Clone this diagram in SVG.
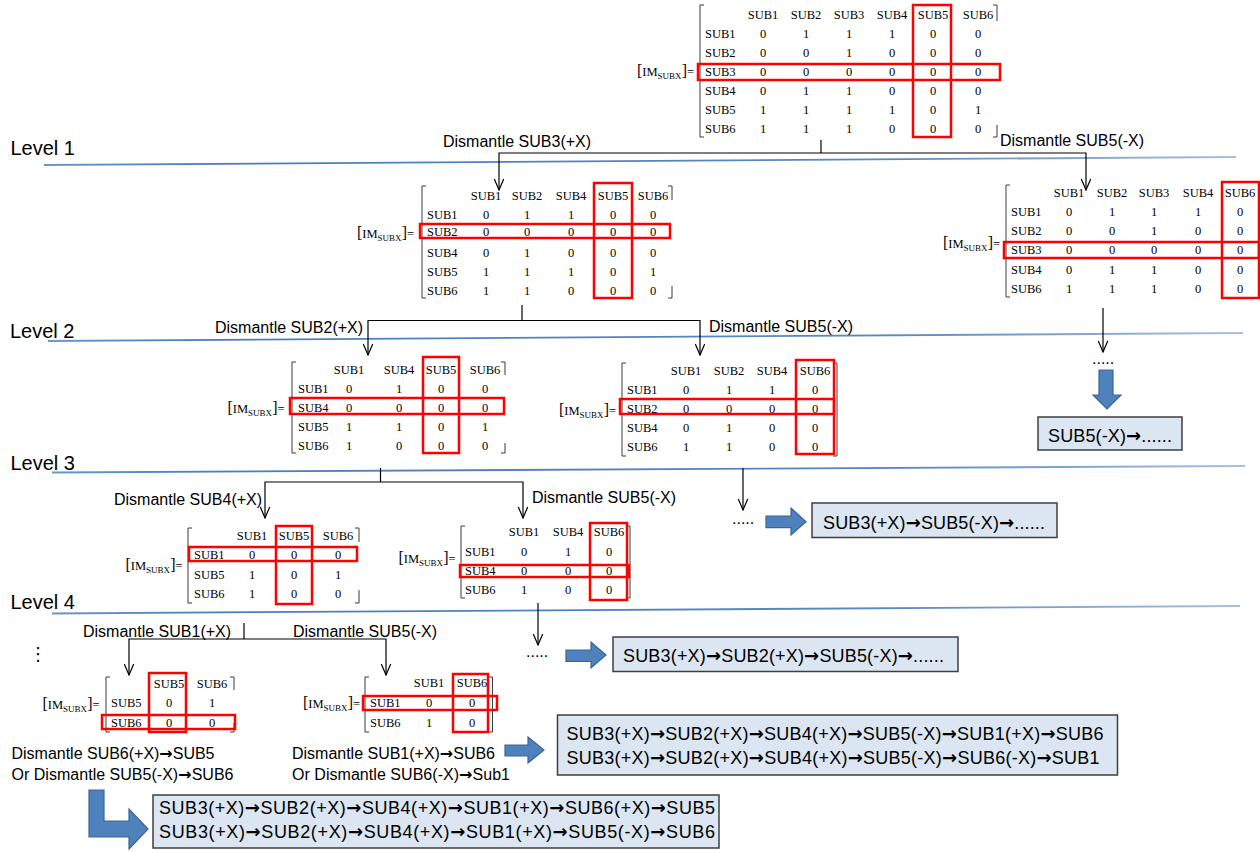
<svg xmlns="http://www.w3.org/2000/svg" width="1260" height="852" viewBox="0 0 1260 852">
<style>
.lv{font-family:"Liberation Sans",Arial,sans-serif;font-size:20px;fill:#000}
.dm{font-family:"Liberation Sans",Arial,sans-serif;font-size:16px;fill:#000}
.bx{font-family:"Liberation Sans",Arial,sans-serif;font-size:18px;fill:#000}
.ar{font-family:"DejaVu Sans",sans-serif;font-weight:bold}
.m{font-family:"Liberation Serif","Times New Roman",serif;font-size:12.5px;text-anchor:middle;fill:#000}
.rl{font-family:"Liberation Serif","Times New Roman",serif;font-size:12.5px;fill:#000}
.sub{font-size:9px}
.bk{font-size:16px}
.hl{fill:none;stroke:#ff0000;stroke-width:2.5}
.br{fill:none;stroke:#3a3a3a;stroke-width:1}
.cn{fill:none;stroke:#000;stroke-width:1.2}
.lvl{fill:none;stroke:url(#lg);stroke-width:1.8}
.blk{fill:#4f81bd;stroke:#3a6496;stroke-width:1.2}
.box{fill:#dce6f2;stroke:#3f3f3f;stroke-width:1.5}
.dots{font-family:"Liberation Sans",Arial,sans-serif;font-size:16px;fill:#000}
</style>
<defs>
<linearGradient id="lg" gradientUnits="userSpaceOnUse" x1="40" y1="0" x2="1250" y2="0">
<stop offset="0" stop-color="#6f97c9"/>
<stop offset="0.15" stop-color="#4a7ebb"/>
<stop offset="0.7" stop-color="#5a88c0"/>
<stop offset="1" stop-color="#a9c1e0"/>
</linearGradient>
<marker id="arr" viewBox="-12 -6 13 12" refX="0" refY="0" markerWidth="13" markerHeight="12" markerUnits="userSpaceOnUse" orient="auto">
<path d="M-11,-4.7 L0,0 L-11,4.7" fill="none" stroke="#000" stroke-width="1.2"/>
</marker>
</defs>
<rect width="1260" height="852" fill="#fff"/>

<g id="levels">
<text class="lv" x="10.5" y="154.5">Level 1</text>
<line class="lvl" x1="44" y1="165" x2="1236" y2="157"/>
<text class="lv" x="10" y="338">Level 2</text>
<line class="lvl" x1="48" y1="341" x2="1243" y2="333"/>
<text class="lv" x="10.5" y="470">Level 3</text>
<line class="lvl" x1="52" y1="472.5" x2="1245" y2="466"/>
<text class="lv" x="10.5" y="609">Level 4</text>
<line class="lvl" x1="52" y1="613.5" x2="1240" y2="606"/>
</g>

<g id="connectors">
<path class="cn" d="M821,140 V153"/>
<path class="cn" d="M821,153 H499 V190" marker-end="url(#arr)"/>
<path class="cn" d="M821,153 H1086 V190" marker-end="url(#arr)"/>
<path class="cn" d="M1103,308 V352" marker-end="url(#arr)"/>
<path class="cn" d="M522,305 V320.5"/>
<path class="cn" d="M522,320.5 H368 V355" marker-end="url(#arr)"/>
<path class="cn" d="M522,320.5 H700 V355" marker-end="url(#arr)"/>
<path class="cn" d="M380.5,468 V482"/>
<path class="cn" d="M380.5,482 H265 V518" marker-end="url(#arr)"/>
<path class="cn" d="M380.5,482 H523 V518" marker-end="url(#arr)"/>
<path class="cn" d="M743,468 V510" marker-end="url(#arr)"/>
<path class="cn" d="M538,603 V645" marker-end="url(#arr)"/>
<path class="cn" d="M244,623 V639"/>
<path class="cn" d="M244,639 H129 V675" marker-end="url(#arr)"/>
<path class="cn" d="M244,639 H386 V675" marker-end="url(#arr)"/>
</g>

<g id="labels">
<text class="dm" x="443" y="147">Dismantle SUB3(+X)</text>
<text class="dm" x="1000" y="146">Dismantle SUB5(-X)</text>
<text class="dm" x="215" y="333">Dismantle SUB2(+X)</text>
<text class="dm" x="709" y="332">Dismantle SUB5(-X)</text>
<text class="dm" x="114" y="505">Dismantle SUB4(+X)</text>
<text class="dm" x="532" y="503">Dismantle SUB5(-X)</text>
<text class="dm" x="83" y="637">Dismantle SUB1(+X)</text>
<text class="dm" x="293" y="637">Dismantle SUB5(-X)</text>
<text class="dm" x="11.5" y="759" textLength="203" lengthAdjust="spacing">Dismantle SUB6(+X)<tspan class="ar">→</tspan>SUB5</text>
<text class="dm" x="11.5" y="780" textLength="222" lengthAdjust="spacing">Or Dismantle SUB5(-X)<tspan class="ar">→</tspan>SUB6</text>
<text class="dm" x="292" y="759" textLength="203" lengthAdjust="spacing">Dismantle SUB1(+X)<tspan class="ar">→</tspan>SUB6</text>
<text class="dm" x="292" y="780" textLength="218" lengthAdjust="spacing">Or Dismantle SUB6(-X)<tspan class="ar">→</tspan>Sub1</text>
<text class="dots" x="1092" y="364">.....</text>
<text class="dots" x="732" y="524">.....</text>
<text class="dots" x="526" y="657">.....</text>
<text x="29" y="660" style="font-family:'DejaVu Sans',sans-serif;font-size:18px">⋮</text>
</g>

<g id="matrix-root">
<text class="rl" x="637" y="76"><tspan class="bk">[</tspan>IM<tspan class="sub" dy="3">SUBX</tspan><tspan class="bk" dy="-3">]</tspan>=</text>
<path class="br" d="M704,5 H700 V137 H704"/>
<path class="br" d="M993,5 H997 V21 M997,125 V137 H993"/>
<text class="m" x="763" y="19">SUB1</text><text class="m" x="806" y="19">SUB2</text><text class="m" x="849" y="19">SUB3</text><text class="m" x="892" y="19">SUB4</text><text class="m" x="933" y="19">SUB5</text><text class="m" x="978" y="19">SUB6</text>
<text class="rl" x="705" y="38">SUB1</text><text class="m" x="763" y="38">0</text><text class="m" x="806" y="38">1</text><text class="m" x="849" y="38">1</text><text class="m" x="892" y="38">1</text><text class="m" x="933" y="38">0</text><text class="m" x="978" y="38">0</text>
<text class="rl" x="705" y="57">SUB2</text><text class="m" x="763" y="57">0</text><text class="m" x="806" y="57">0</text><text class="m" x="849" y="57">1</text><text class="m" x="892" y="57">0</text><text class="m" x="933" y="57">0</text><text class="m" x="978" y="57">0</text>
<text class="rl" x="705" y="76">SUB3</text><text class="m" x="763" y="76">0</text><text class="m" x="806" y="76">0</text><text class="m" x="849" y="76">0</text><text class="m" x="892" y="76">0</text><text class="m" x="933" y="76">0</text><text class="m" x="978" y="76">0</text>
<text class="rl" x="705" y="95">SUB4</text><text class="m" x="763" y="95">0</text><text class="m" x="806" y="95">1</text><text class="m" x="849" y="95">1</text><text class="m" x="892" y="95">0</text><text class="m" x="933" y="95">0</text><text class="m" x="978" y="95">0</text>
<text class="rl" x="705" y="114">SUB5</text><text class="m" x="763" y="114">1</text><text class="m" x="806" y="114">1</text><text class="m" x="849" y="114">1</text><text class="m" x="892" y="114">1</text><text class="m" x="933" y="114">0</text><text class="m" x="978" y="114">1</text>
<text class="rl" x="705" y="133">SUB6</text><text class="m" x="763" y="133">1</text><text class="m" x="806" y="133">1</text><text class="m" x="849" y="133">1</text><text class="m" x="892" y="133">0</text><text class="m" x="933" y="133">0</text><text class="m" x="978" y="133">0</text>
<rect class="hl" x="913" y="5" width="38" height="132"/>
<rect class="hl" x="698" y="64" width="302" height="16"/>
</g>

<g id="matrix-l1-left">
<text class="rl" x="357" y="238"><tspan class="bk">[</tspan>IM<tspan class="sub" dy="3">SUBX</tspan><tspan class="bk" dy="-3">]</tspan>=</text>
<path class="br" d="M426,186 H422 V298 H426"/>
<path class="br" d="M668,186 H672 V200 M672,286 V298 H668"/>
<text class="m" x="486" y="200">SUB1</text><text class="m" x="527" y="200">SUB2</text><text class="m" x="571" y="200">SUB4</text><text class="m" x="613" y="200">SUB5</text><text class="m" x="653" y="200">SUB6</text>
<text class="rl" x="427" y="219">SUB1</text><text class="m" x="486" y="219">0</text><text class="m" x="527" y="219">1</text><text class="m" x="571" y="219">1</text><text class="m" x="613" y="219">0</text><text class="m" x="653" y="219">0</text>
<text class="rl" x="427" y="236">SUB2</text><text class="m" x="486" y="236">0</text><text class="m" x="527" y="236">0</text><text class="m" x="571" y="236">0</text><text class="m" x="613" y="236">0</text><text class="m" x="653" y="236">0</text>
<text class="rl" x="427" y="257">SUB4</text><text class="m" x="486" y="257">0</text><text class="m" x="527" y="257">1</text><text class="m" x="571" y="257">0</text><text class="m" x="613" y="257">0</text><text class="m" x="653" y="257">0</text>
<text class="rl" x="427" y="276">SUB5</text><text class="m" x="486" y="276">1</text><text class="m" x="527" y="276">1</text><text class="m" x="571" y="276">1</text><text class="m" x="613" y="276">0</text><text class="m" x="653" y="276">1</text>
<text class="rl" x="427" y="295">SUB6</text><text class="m" x="486" y="295">1</text><text class="m" x="527" y="295">1</text><text class="m" x="571" y="295">0</text><text class="m" x="613" y="295">0</text><text class="m" x="653" y="295">0</text>
<rect class="hl" x="594" y="183" width="38" height="115"/>
<rect class="hl" x="420" y="224" width="250" height="14"/>
</g>

<g id="matrix-l1-right">
<text class="rl" x="943" y="248"><tspan class="bk">[</tspan>IM<tspan class="sub" dy="3">SUBX</tspan><tspan class="bk" dy="-3">]</tspan>=</text>
<path class="br" d="M1010,185 H1006 V297 H1010"/>
<text class="m" x="1069" y="197">SUB1</text><text class="m" x="1112" y="197">SUB2</text><text class="m" x="1154" y="197">SUB3</text><text class="m" x="1198" y="197">SUB4</text><text class="m" x="1240" y="197">SUB6</text>
<text class="rl" x="1011" y="216">SUB1</text><text class="m" x="1069" y="216">0</text><text class="m" x="1112" y="216">1</text><text class="m" x="1154" y="216">1</text><text class="m" x="1198" y="216">1</text><text class="m" x="1240" y="216">0</text>
<text class="rl" x="1011" y="235">SUB2</text><text class="m" x="1069" y="235">0</text><text class="m" x="1112" y="235">0</text><text class="m" x="1154" y="235">1</text><text class="m" x="1198" y="235">0</text><text class="m" x="1240" y="235">0</text>
<text class="rl" x="1011" y="254">SUB3</text><text class="m" x="1069" y="254">0</text><text class="m" x="1112" y="254">0</text><text class="m" x="1154" y="254">0</text><text class="m" x="1198" y="254">0</text><text class="m" x="1240" y="254">0</text>
<text class="rl" x="1011" y="274">SUB4</text><text class="m" x="1069" y="274">0</text><text class="m" x="1112" y="274">1</text><text class="m" x="1154" y="274">1</text><text class="m" x="1198" y="274">0</text><text class="m" x="1240" y="274">0</text>
<text class="rl" x="1011" y="293">SUB6</text><text class="m" x="1069" y="293">1</text><text class="m" x="1112" y="293">1</text><text class="m" x="1154" y="293">1</text><text class="m" x="1198" y="293">0</text><text class="m" x="1240" y="293">0</text>
<rect class="hl" x="1222" y="182" width="37" height="116"/>
<rect class="hl" x="1004" y="242" width="255" height="16"/>
</g>

<g id="matrix-l2-left">
<text class="rl" x="227.5" y="413"><tspan class="bk">[</tspan>IM<tspan class="sub" dy="3">SUBX</tspan><tspan class="bk" dy="-3">]</tspan>=</text>
<path class="br" d="M296,362 H292 V453 H296"/>
<path class="br" d="M501,362 H505 V375 M505,443 V453 H501"/>
<text class="m" x="349" y="374">SUB1</text><text class="m" x="399" y="374">SUB4</text><text class="m" x="441" y="374">SUB5</text><text class="m" x="485" y="374">SUB6</text>
<text class="rl" x="298" y="393">SUB1</text><text class="m" x="349" y="393">0</text><text class="m" x="399" y="393">1</text><text class="m" x="441" y="393">0</text><text class="m" x="485" y="393">0</text>
<text class="rl" x="298" y="412">SUB4</text><text class="m" x="349" y="412">0</text><text class="m" x="399" y="412">0</text><text class="m" x="441" y="412">0</text><text class="m" x="485" y="412">0</text>
<text class="rl" x="298" y="431">SUB5</text><text class="m" x="349" y="431">1</text><text class="m" x="399" y="431">1</text><text class="m" x="441" y="431">0</text><text class="m" x="485" y="431">1</text>
<text class="rl" x="298" y="450">SUB6</text><text class="m" x="349" y="450">1</text><text class="m" x="399" y="450">0</text><text class="m" x="441" y="450">0</text><text class="m" x="485" y="450">0</text>
<rect class="hl" x="423" y="357" width="36" height="96"/>
<rect class="hl" x="290" y="398" width="214" height="16"/>
</g>

<g id="matrix-l2-right">
<text class="rl" x="559" y="415"><tspan class="bk">[</tspan>IM<tspan class="sub" dy="3">SUBX</tspan><tspan class="bk" dy="-3">]</tspan>=</text>
<path class="br" d="M626,363 H622 V456 H626"/>
<path class="br" d="M833,363 H837 V456 H833"/>
<text class="m" x="686" y="375">SUB1</text><text class="m" x="729" y="375">SUB2</text><text class="m" x="772" y="375">SUB4</text><text class="m" x="815" y="375">SUB6</text>
<text class="rl" x="627" y="394">SUB1</text><text class="m" x="686" y="394">0</text><text class="m" x="729" y="394">1</text><text class="m" x="772" y="394">1</text><text class="m" x="815" y="394">0</text>
<text class="rl" x="627" y="413">SUB2</text><text class="m" x="686" y="413">0</text><text class="m" x="729" y="413">0</text><text class="m" x="772" y="413">0</text><text class="m" x="815" y="413">0</text>
<text class="rl" x="627" y="432">SUB4</text><text class="m" x="686" y="432">0</text><text class="m" x="729" y="432">1</text><text class="m" x="772" y="432">0</text><text class="m" x="815" y="432">0</text>
<text class="rl" x="627" y="451">SUB6</text><text class="m" x="686" y="451">1</text><text class="m" x="729" y="451">1</text><text class="m" x="772" y="451">0</text><text class="m" x="815" y="451">0</text>
<rect class="hl" x="796" y="360" width="38" height="94"/>
<rect class="hl" x="620" y="399" width="214" height="15"/>
</g>

<g id="matrix-l3-left">
<text class="rl" x="125.5" y="570"><tspan class="bk">[</tspan>IM<tspan class="sub" dy="3">SUBX</tspan><tspan class="bk" dy="-3">]</tspan>=</text>
<path class="br" d="M192,528 H188 V603 H192"/>
<path class="br" d="M355,528 H359 V542 M359,590 V603 H355"/>
<text class="m" x="252" y="540">SUB1</text><text class="m" x="294" y="540">SUB5</text><text class="m" x="338" y="540">SUB6</text>
<text class="rl" x="194" y="559">SUB1</text><text class="m" x="252" y="559">0</text><text class="m" x="294" y="559">0</text><text class="m" x="338" y="559">0</text>
<text class="rl" x="194" y="579">SUB5</text><text class="m" x="252" y="579">1</text><text class="m" x="294" y="579">0</text><text class="m" x="338" y="579">1</text>
<text class="rl" x="194" y="598">SUB6</text><text class="m" x="252" y="598">1</text><text class="m" x="294" y="598">0</text><text class="m" x="338" y="598">0</text>
<rect class="hl" x="276" y="526" width="36" height="78"/>
<rect class="hl" x="189" y="547" width="168" height="14"/>
</g>

<g id="matrix-l3-right">
<text class="rl" x="398.5" y="563"><tspan class="bk">[</tspan>IM<tspan class="sub" dy="3">SUBX</tspan><tspan class="bk" dy="-3">]</tspan>=</text>
<path class="br" d="M465,526 H461 V598 H465"/>
<path class="br" d="M626,526 H630 V598 H626"/>
<text class="m" x="524" y="536">SUB1</text><text class="m" x="568" y="536">SUB4</text><text class="m" x="609" y="536">SUB6</text>
<text class="rl" x="465" y="556">SUB1</text><text class="m" x="524" y="556">0</text><text class="m" x="568" y="556">1</text><text class="m" x="609" y="556">0</text>
<text class="rl" x="465" y="575">SUB4</text><text class="m" x="524" y="575">0</text><text class="m" x="568" y="575">0</text><text class="m" x="609" y="575">0</text>
<text class="rl" x="465" y="594">SUB6</text><text class="m" x="524" y="594">1</text><text class="m" x="568" y="594">0</text><text class="m" x="609" y="594">0</text>
<rect class="hl" x="590" y="523" width="37" height="77"/>
<rect class="hl" x="460" y="565" width="169" height="12"/>
</g>

<g id="matrix-l4-left">
<text class="rl" x="42.5" y="709"><tspan class="bk">[</tspan>IM<tspan class="sub" dy="3">SUBX</tspan><tspan class="bk" dy="-3">]</tspan>=</text>
<path class="br" d="M110,677 H106 V732 H110"/>
<path class="br" d="M230,677 H234 V690 M234,723 V732 H230"/>
<text class="m" x="169" y="688">SUB5</text><text class="m" x="212" y="688">SUB6</text>
<text class="rl" x="111" y="707">SUB5</text><text class="m" x="169" y="707">0</text><text class="m" x="212" y="707">1</text>
<text class="rl" x="111" y="727">SUB6</text><text class="m" x="169" y="727">0</text><text class="m" x="212" y="727">0</text>
<rect class="hl" x="149" y="673" width="37" height="59"/>
<rect class="hl" x="102" y="715" width="133" height="14"/>
</g>

<g id="matrix-l4-right">
<text class="rl" x="303" y="708"><tspan class="bk">[</tspan>IM<tspan class="sub" dy="3">SUBX</tspan><tspan class="bk" dy="-3">]</tspan>=</text>
<path class="br" d="M369,677 H365 V732 H369"/>
<path class="br" d="M488.5,677 H492.5 V732 H488.5"/>
<text class="m" x="429" y="687">SUB1</text><text class="m" x="472" y="687">SUB6</text>
<text class="rl" x="370" y="707">SUB1</text><text class="m" x="429" y="707">0</text><text class="m" x="472" y="707">0</text>
<text class="rl" x="370" y="727">SUB6</text><text class="m" x="429" y="727">1</text><text class="m" x="472" y="727">0</text>
<rect class="hl" x="453" y="674" width="35" height="58"/>
<rect class="hl" x="363" y="696" width="134" height="14"/>
</g>

<g id="block-arrows">
<polygon class="blk" points="1099,370 1113,370 1113,395 1121,395 1107,409 1093,395 1099,395"/>
<polygon class="blk" points="766,516 791,516 791,508 806,521.7 791,535 791,527.7 766,527.7"/>
<polygon class="blk" points="566,650 591,650 591,642 606,655 591,668 591,661.5 566,661.5"/>
<polygon class="blk" points="505,745 528,745 528,737 544,750 528,763 528,756 505,756"/>
<polygon class="blk" points="89,790 104,790 104,821 129,821 129,809 148,829 129,849 129,837 89,837"/>
</g>

<g id="result-1">
<rect class="box" x="1038" y="417" width="144" height="33"/>
<text class="bx" x="1048" y="442" textLength="124" lengthAdjust="spacing">SUB5(-X)<tspan class="ar">→</tspan>......</text>
</g>
<g id="result-2">
<rect class="box" x="812" y="503" width="245" height="34.5"/>
<text class="bx" x="823" y="528.5" textLength="222" lengthAdjust="spacing">SUB3(+X)<tspan class="ar">→</tspan>SUB5(-X)<tspan class="ar">→</tspan>......</text>
</g>
<g id="result-3">
<rect class="box" x="613" y="637" width="345" height="34.5"/>
<text class="bx" x="623" y="662" textLength="321" lengthAdjust="spacing">SUB3(+X)<tspan class="ar">→</tspan>SUB2(+X)<tspan class="ar">→</tspan>SUB5(-X)<tspan class="ar">→</tspan>......</text>
</g>
<g id="result-4">
<rect class="box" x="557.5" y="715" width="560" height="60"/>
<text class="bx" x="566.5" y="739.5" textLength="537" lengthAdjust="spacing">SUB3(+X)<tspan class="ar">→</tspan>SUB2(+X)<tspan class="ar">→</tspan>SUB4(+X)<tspan class="ar">→</tspan>SUB5(-X)<tspan class="ar">→</tspan>SUB1(+X)<tspan class="ar">→</tspan>SUB6</text>
<text class="bx" x="566.5" y="763.5" textLength="533" lengthAdjust="spacing">SUB3(+X)<tspan class="ar">→</tspan>SUB2(+X)<tspan class="ar">→</tspan>SUB4(+X)<tspan class="ar">→</tspan>SUB5(-X)<tspan class="ar">→</tspan>SUB6(-X)<tspan class="ar">→</tspan>SUB1</text>
</g>
<g id="result-5">
<rect class="box" x="153" y="795" width="566" height="53"/>
<text class="bx" x="159" y="814" textLength="556" lengthAdjust="spacing">SUB3(+X)<tspan class="ar">→</tspan>SUB2(+X)<tspan class="ar">→</tspan>SUB4(+X)<tspan class="ar">→</tspan>SUB1(+X)<tspan class="ar">→</tspan>SUB6(+X)<tspan class="ar">→</tspan>SUB5</text>
<text class="bx" x="159" y="838" textLength="556" lengthAdjust="spacing">SUB3(+X)<tspan class="ar">→</tspan>SUB2(+X)<tspan class="ar">→</tspan>SUB4(+X)<tspan class="ar">→</tspan>SUB1(+X)<tspan class="ar">→</tspan>SUB5(-X)<tspan class="ar">→</tspan>SUB6</text>
</g>
</svg>
